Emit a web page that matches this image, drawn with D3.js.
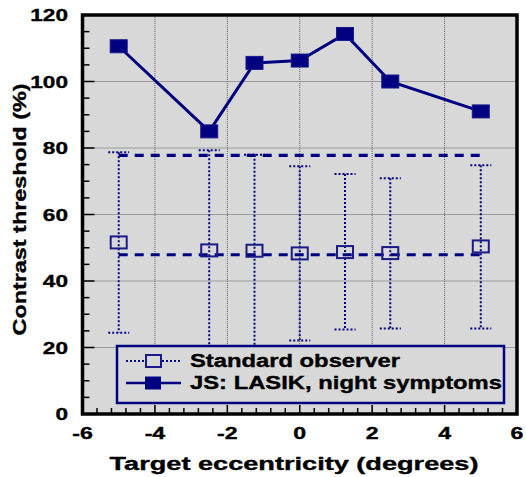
<!DOCTYPE html>
<html><head><meta charset="utf-8">
<script src="https://cdn.jsdelivr.net/npm/d3@7"></script>
<style>
body{margin:0;background:#fff}
svg{display:block}
text{font-family:"Liberation Sans",Arial,Helvetica,sans-serif;font-weight:bold;fill:#000;stroke:#000;stroke-width:0.35px}
</style></head>
<body><svg id="c" width="526" height="477"></svg>
<script>
// ---- data ----
const eccentricity = [-5, -2.5, -1.25, 0, 1.25, 2.5, 5];
const lasik = [110.6, 85.0, 105.6, 106.3, 114.3, 100.0, 91.0];
const standard = [51.6, 49.2, 49.1, 48.3, 48.7, 48.4, 50.4];
const standardUpper = [78.7, 79.3, 78.0, 74.5, 72.2, 70.9, 74.8];
const standardLower = [24.4, 18.0, 17.0, 22.1, 25.4, 25.7, 25.7];
const refLevels = [77.8, 47.9];
const refRange = [-5, 5];
const xTicks = [-6, -4, -2, 0, 2, 4, 6];
const yTicks = [0, 20, 40, 60, 80, 100, 120];
const seriesNames = ["Standard observer", "JS: LASIK, night symptoms"];
const xTitle = "Target eccentricity (degrees)";
const yTitle = "Contrast threshold (%)";

// ---- layout ----
const NAVY = "#000080", BG = "#d8d8d8";
const L = 82.5, R = 517, T = 15, B = 414;
const svg = d3.select("#c");
const x = d3.scaleLinear().domain([-6, 6]).range([L, R]);
const y = d3.scaleLinear().domain([0, 120]).range([B, T]);

function stretch(sel, k) {
  sel.each(function () {
    const w = this.getComputedTextLength();
    this.setAttribute("textLength", w * k);
    this.setAttribute("lengthAdjust", "spacingAndGlyphs");
  });
}
function fixLen(sel, w) {
  sel.attr("textLength", w).attr("lengthAdjust", "spacingAndGlyphs");
}

// background
svg.append("rect").attr("x", L).attr("y", T).attr("width", R - L).attr("height", B - T).attr("fill", BG);

// grid
const grid = svg.append("g").attr("stroke", "#606060").attr("stroke-width", 1).attr("stroke-dasharray", "1,1");
grid.selectAll(".gx").data(xTicks.slice(1, -1)).join("line")
  .attr("x1", d => x(d)).attr("x2", d => x(d)).attr("y1", T).attr("y2", B);
grid.selectAll(".gy").data(yTicks.slice(1, -1)).join("line")
  .attr("x1", L).attr("x2", R).attr("y1", d => y(d)).attr("y2", d => y(d));

// error bars (standard observer)
const eb = svg.append("g").attr("stroke", NAVY).attr("stroke-width", 2).attr("stroke-dasharray", "2,2").attr("fill", "none");
eccentricity.forEach((e, i) => {
  eb.append("line").attr("x1", x(e)).attr("x2", x(e)).attr("y1", y(standardUpper[i])).attr("y2", y(standardLower[i]));
  [standardUpper[i], standardLower[i]].forEach(v => {
    eb.append("line").attr("x1", x(e) - 10.5).attr("x2", x(e) + 10.5).attr("y1", y(v)).attr("y2", y(v));
  });
});

// reference dashed lines
svg.append("g").selectAll("line").data(refLevels).join("line")
  .attr("x1", x(refRange[0])).attr("x2", x(refRange[1]))
  .attr("y1", d => y(d)).attr("y2", d => y(d))
  .attr("stroke", NAVY).attr("stroke-width", 3.2).attr("stroke-dasharray", "9,7");

// standard observer open squares
svg.append("g").selectAll("rect").data(eccentricity).join("rect")
  .attr("x", (d) => x(d) - 8).attr("y", (d, i) => y(standard[i]) - 6)
  .attr("width", 16).attr("height", 12)
  .attr("fill", "none").attr("stroke", "#1a1a88").attr("stroke-width", 2);

// LASIK line + filled squares
const line = d3.line().x((d, i) => x(eccentricity[i])).y(d => y(d));
svg.append("path").datum(lasik).attr("d", line).attr("fill", "none").attr("stroke", NAVY).attr("stroke-width", 3);
svg.append("g").selectAll("rect").data(lasik).join("rect")
  .attr("x", (d, i) => x(eccentricity[i]) - 8.5).attr("y", d => y(d) - 6.5)
  .attr("width", 17).attr("height", 13)
  .attr("fill", NAVY).attr("stroke", "#1a1a8a").attr("stroke-width", 1);

// legend
const lg = svg.append("g");
lg.append("rect").attr("x", 117).attr("y", 346).attr("width", 387).attr("height", 57)
  .attr("fill", BG).attr("stroke", NAVY).attr("stroke-width", 2.5);
lg.append("line").attr("x1", 126).attr("x2", 181).attr("y1", 361).attr("y2", 361)
  .attr("stroke", NAVY).attr("stroke-width", 2).attr("stroke-dasharray", "2,2");
lg.append("rect").attr("x", 146).attr("y", 355).attr("width", 15).attr("height", 12)
  .attr("fill", BG).attr("stroke", "#1a1a88").attr("stroke-width", 2);
lg.append("line").attr("x1", 126).attr("x2", 181).attr("y1", 383).attr("y2", 383)
  .attr("stroke", NAVY).attr("stroke-width", 2.5);
lg.append("rect").attr("x", 145).attr("y", 376.5).attr("width", 16).attr("height", 13)
  .attr("fill", NAVY);
const lt = lg.selectAll("text").data(seriesNames).join("text")
  .attr("x", 190).attr("y", (d, i) => 367 + i * 22.3)
  .attr("font-size", 17.5).text(d => d);
fixLen(lt.filter((d, i) => i === 0), 210);
fixLen(lt.filter((d, i) => i === 1), 312);

// frame
svg.append("rect").attr("x", L).attr("y", T).attr("width", R - L).attr("height", B - T)
  .attr("fill", "none").attr("stroke", "#000").attr("stroke-width", 3.5);

// ticks
const tk = svg.append("g").attr("stroke", "#000").attr("stroke-width", 1.5);
d3.range(0, 121, 5).forEach(v => {
  const major = v % 20 === 0;
  tk.append("line").attr("x1", L).attr("x2", L + (major ? 12 : 7)).attr("y1", y(v)).attr("y2", y(v));
});
d3.range(0, 31).forEach(k => {
  const v = -6 + k * 0.4;
  const major = k % 5 === 0;
  tk.append("line").attr("x1", x(v)).attr("x2", x(v)).attr("y1", B).attr("y2", B - (major ? 9 : 6));
});

// tick labels
const yl = svg.append("g").selectAll("text").data(yTicks).join("text")
  .attr("x", 68).attr("y", d => y(d) + 6).attr("text-anchor", "end")
  .attr("font-size", 17).text(d => d);
stretch(yl, 1.33);
const xl = svg.append("g").selectAll("text").data(xTicks).join("text")
  .attr("x", d => x(d)).attr("y", 438.5).attr("text-anchor", "middle")
  .attr("font-size", 16.5).text(d => d);
stretch(xl, 1.4);

// axis titles
const xt = svg.append("text").attr("x", 294).attr("y", 469.5).attr("text-anchor", "middle")
  .attr("font-size", 18).text(xTitle);
fixLen(xt, 369);
const yt = svg.append("text").attr("transform", "translate(25.5,209.5) rotate(-90)").attr("text-anchor", "middle")
  .attr("font-size", 18.5).text(yTitle);
fixLen(yt, 252);
</script></body></html>
